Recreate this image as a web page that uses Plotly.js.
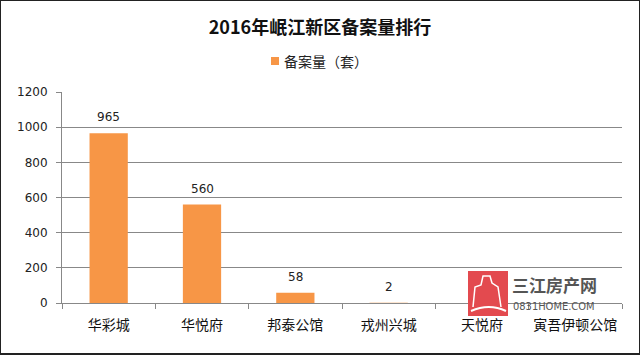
<!DOCTYPE html>
<html>
<head>
<meta charset="utf-8">
<script src="https://cdn.plot.ly/plotly-3.0.1.min.js"></script>
<style>
html,body{margin:0;padding:0;background:#fff;}
#chart{width:640px;height:355px;box-sizing:border-box;border:1px solid #222;border-bottom:2px solid #222;}
</style>
</head>
<body>
<div id="chart"></div>
<script>
const categories = ["华彩城", "华悦府", "邦泰公馆", "戎州兴城", "天悦府", "寅吾伊顿公馆"];
const values = [965, 560, 58, 2, 0, 0];
const labels = ["965", "560", "58", "2", "", ""];
const seriesName = "备案量（套）";
const yTicks = [0, 200, 400, 600, 800, 1000, 1200];

const font = "'Noto Sans CJK SC', 'Noto Sans', sans-serif";
const W = 638, H = 352;
const L = 61, R = 621, T = 91, B = 302;
const px = x => (x - L) / (R - L);
const py = y => (B - y) / (B - T);

const trace = {
  type: "bar",
  x: categories,
  y: values,
  name: seriesName,
  marker: {color: "#F79646"},
  hoverinfo: "x+y"
};

const valueLabels = categories.map((c, i) => ({
  xref: "x", yref: "y", x: c, y: values[i], text: labels[i],
  showarrow: false, yanchor: "bottom", yshift: 7,
  font: {family: "'DejaVu Sans', sans-serif", size: 12, color: "#222"}
})).filter(a => a.text !== "");

const layout = {
  width: W, height: H,
  margin: {l: L, r: W - R, t: T, b: H - B},
  paper_bgcolor: "#fff",
  plot_bgcolor: "#fff",
  bargap: 0.59,
  showlegend: false,
  title: {text: "<b>2016年岷江新区备案量排行</b>", x: 0.5, xanchor: "center", y: 1 - 27 / H, yanchor: "middle",
          font: {family: font, size: 18, color: "#111"}},
  xaxis: {
    type: "category",
    tickson: "boundaries",
    ticks: "outside", ticklen: 5, tickcolor: "#888",
    showline: true, linecolor: "#888", linewidth: 1,
    showgrid: false,
    tickfont: {family: font, size: 14, color: "#111"},
    ticklabelstandoff: 9,
    fixedrange: true
  },
  yaxis: {
    range: [0, 1200],
    tickvals: yTicks,
    ticks: "outside", ticklen: 5, tickcolor: "#888",
    showline: true, linecolor: "#888", linewidth: 1,
    showgrid: true, gridcolor: "#888", gridwidth: 1,
    zeroline: false,
    tickfont: {family: "'DejaVu Sans', sans-serif", size: 12, color: "#222"},
    ticklabelstandoff: 6,
    fixedrange: true
  },
  shapes: [
    {type: "rect", xref: "paper", yref: "paper", x0: px(270), x1: px(278), y0: py(64), y1: py(56),
     fillcolor: "#F79646", line: {width: 0}},
    {type: "rect", xref: "paper", yref: "paper", x0: px(467), x1: px(507), y0: py(315), y1: py(270),
     fillcolor: "#E34A4F", line: {width: 0}, layer: "above"},
    {type: "path", xref: "paper", yref: "paper", layer: "above",
     path: `M ${px(472)} ${py(306)} L ${px(474)} ${py(286)} L ${px(480)} ${py(284)} L ${px(482)} ${py(275)} L ${px(489)} ${py(275)} L ${px(491)} ${py(282)} L ${px(497)} ${py(286)} L ${px(500)} ${py(306)}`,
     line: {color: "#fff", width: 1.5}},
    {type: "path", xref: "paper", yref: "paper", layer: "above",
     path: `M ${px(470)} ${py(310)} Q ${px(488)} ${py(302)} ${px(505)} ${py(310)}`,
     line: {color: "#fff", width: 2}}
  ],
  annotations: valueLabels.concat([
    {xref: "paper", yref: "paper", x: px(281), y: py(60), xanchor: "left", yanchor: "middle",
     text: seriesName, showarrow: false, font: {family: font, size: 14, color: "#222"}},
    {xref: "paper", yref: "paper", x: px(510), y: py(283), xanchor: "left", yanchor: "middle",
     text: "<b>三江房产网</b>", showarrow: false, borderpad: 0,
     font: {family: font, size: 17, color: "#555"}},
    {xref: "paper", yref: "paper", x: px(511), y: py(305), xanchor: "left", yanchor: "middle",
     text: "0831HOME.COM", showarrow: false, borderpad: 0,
     font: {family: "'Liberation Sans Narrow', 'DejaVu Sans Condensed', sans-serif", size: 11, color: "#555"}}
  ])
};

Plotly.newPlot("chart", [trace], layout, {displayModeBar: false, staticPlot: true});
</script>
</body>
</html>
